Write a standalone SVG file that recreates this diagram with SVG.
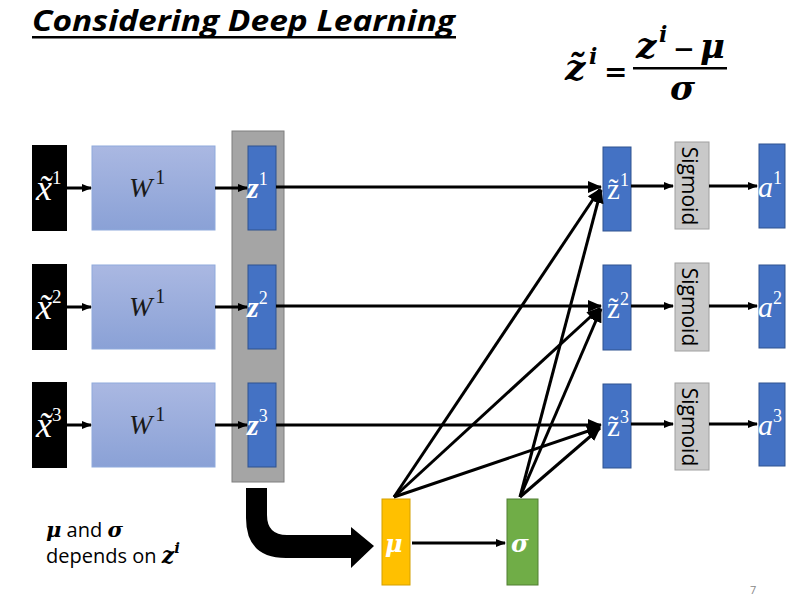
<svg xmlns="http://www.w3.org/2000/svg" width="793" height="602" viewBox="0 0 793 602">
<defs>
<linearGradient id="wg" x1="0" y1="0" x2="0" y2="1"><stop offset="0" stop-color="#aab8e2"/><stop offset="1" stop-color="#8aa1d6"/></linearGradient>
<marker id="ah" markerWidth="10" markerHeight="8" refX="9" refY="4" orient="auto" markerUnits="userSpaceOnUse"><path d="M0,0 L10,4 L0,8 z" fill="#000"/></marker>
<marker id="ah2" markerWidth="14" markerHeight="12" refX="13" refY="6" orient="auto" markerUnits="userSpaceOnUse"><path d="M0,0 L14,6 L0,12 z" fill="#000"/></marker>
</defs>
<style>
.xin{fill:#000}
.w{fill:url(#wg);stroke:#8faadc;stroke-width:1}
.blue{fill:#4472c4;stroke:#2f528f;stroke-width:1}
.sig{fill:#c9c9c9;stroke:#a0a0a0;stroke-width:1}
.m{font-family:"Liberation Serif","DejaVu Serif",serif;font-style:italic}
.wt{fill:#fff}
.bold{font-weight:bold}
.sup{font-style:normal;font-weight:normal}
.up{font-style:normal}
.ln{stroke:#000;stroke-width:3;fill:none;marker-end:url(#ah2)}
.sm{stroke:#000;stroke-width:3;fill:none;marker-end:url(#ah)}
.st{font-family:"Open Sans","Noto Sans",sans-serif;font-size:21px;fill:#000}
.nt{font-family:"Open Sans","Noto Sans",sans-serif;font-size:20px;fill:#000}
.mb{font-family:"DejaVu Serif","Liberation Serif",serif;font-style:italic;font-weight:bold}
</style>
<rect width="793" height="602" fill="#fff"/>
<g id="title">
<text x="32" y="31" font-family="Open Sans, Noto Sans, sans-serif" font-size="29" font-weight="bold" font-style="italic" textLength="423" lengthAdjust="spacingAndGlyphs">Considering Deep Learning</text>
<rect x="32" y="36" width="424" height="2.5" fill="#000"/>
</g>
<g id="formula">
<text class="mb" x="565" y="80" font-size="36">z̃</text>
<text class="mb" x="589" y="64" font-size="22">i</text>
<text class="mb up" x="604" y="81" font-size="28">=</text>
<text class="mb" x="636" y="58" font-size="36">z</text>
<text class="mb" x="659" y="42" font-size="22">i</text>
<text class="mb up" x="673" y="58" font-size="26">−</text>
<text class="mb" x="700" y="58" font-size="34">μ</text>
<rect x="633" y="67" width="94" height="2.5" fill="#000"/>
<text class="mb" x="670" y="100" font-size="34">σ</text>
</g>
<g id="gray">
<rect x="232" y="131" width="52" height="351" fill="#a5a5a5" stroke="#7f7f7f" stroke-width="1"/>
</g>
<g id="x1"><rect class="xin" x="32" y="145" width="35" height="86"/><text class="m wt" x="36" y="200" font-size="36">x̃<tspan class="sup" font-size="19" dy="-16">1</tspan></text></g>
<g id="x2"><rect class="xin" x="32" y="264" width="35" height="86"/><text class="m wt" x="36" y="319" font-size="36">x̃<tspan class="sup" font-size="19" dy="-16">2</tspan></text></g>
<g id="x3"><rect class="xin" x="32" y="382" width="35" height="86"/><text class="m wt" x="36" y="437" font-size="36">x̃<tspan class="sup" font-size="19" dy="-16">3</tspan></text></g>
<g id="w1"><rect class="w" x="92" y="146" width="123" height="84"/><text class="m" x="129" y="197" font-size="28" fill="#1a1a1a">W<tspan class="sup" font-size="20" dy="-13" dx="3">1</tspan></text></g>
<g id="w2"><rect class="w" x="92" y="265" width="123" height="84"/><text class="m" x="129" y="316" font-size="28" fill="#1a1a1a">W<tspan class="sup" font-size="20" dy="-13" dx="3">1</tspan></text></g>
<g id="w3"><rect class="w" x="92" y="383" width="123" height="84"/><text class="m" x="129" y="434" font-size="28" fill="#1a1a1a">W<tspan class="sup" font-size="20" dy="-13" dx="3">1</tspan></text></g>
<g id="z1"><rect class="blue" x="248" y="146" width="28" height="84"/><text class="m wt bold" x="247" y="198" font-size="30">z<tspan class="sup" font-size="18" dy="-13">1</tspan></text></g>
<g id="z2"><rect class="blue" x="248" y="265" width="28" height="84"/><text class="m wt bold" x="247" y="317" font-size="30">z<tspan class="sup" font-size="18" dy="-13">2</tspan></text></g>
<g id="z3"><rect class="blue" x="248" y="383" width="28" height="84"/><text class="m wt bold" x="247" y="435" font-size="30">z<tspan class="sup" font-size="18" dy="-13">3</tspan></text></g>
<g id="zt1"><rect class="blue" x="603" y="147" width="28" height="84"/><text class="wt" font-family="Liberation Serif, serif" x="607" y="199" font-size="29">z̃<tspan font-size="18" dy="-13">1</tspan></text></g>
<g id="zt2"><rect class="blue" x="603" y="265" width="28" height="85"/><text class="wt" font-family="Liberation Serif, serif" x="607" y="318" font-size="29">z̃<tspan font-size="18" dy="-13">2</tspan></text></g>
<g id="zt3"><rect class="blue" x="603" y="384" width="28" height="84"/><text class="wt" font-family="Liberation Serif, serif" x="607" y="436" font-size="29">z̃<tspan font-size="18" dy="-13">3</tspan></text></g>
<g id="s1"><rect class="sig" x="675" y="142" width="34" height="87"/><text class="st" transform="translate(682,186) rotate(90)" text-anchor="middle">Sigmoid</text></g>
<g id="s2"><rect class="sig" x="675" y="263" width="34" height="88"/><text class="st" transform="translate(682,307) rotate(90)" text-anchor="middle">Sigmoid</text></g>
<g id="s3"><rect class="sig" x="675" y="383" width="34" height="87"/><text class="st" transform="translate(682,427) rotate(90)" text-anchor="middle">Sigmoid</text></g>
<g id="a1"><rect class="blue" x="759" y="144" width="26" height="84"/><text class="m wt" x="758" y="197" font-size="30">a<tspan class="sup" font-size="18" dy="-13">1</tspan></text></g>
<g id="a2"><rect class="blue" x="759" y="265" width="26" height="83"/><text class="m wt" x="758" y="317" font-size="30">a<tspan class="sup" font-size="18" dy="-13">2</tspan></text></g>
<g id="a3"><rect class="blue" x="759" y="383" width="26" height="83"/><text class="m wt" x="758" y="435" font-size="30">a<tspan class="sup" font-size="18" dy="-13">3</tspan></text></g>
<g id="mu"><rect x="382" y="499" width="28" height="86" fill="#ffc000" stroke="#d4a000"/><text class="mb wt" x="385" y="552" font-size="24">μ</text></g>
<g id="sigma"><rect x="507" y="499" width="31" height="86" fill="#70ad47" stroke="#507e32"/><text class="mb wt" x="511" y="552" font-size="24">σ</text></g>
<g id="connectors">
<line class="sm" x1="67" y1="188" x2="91" y2="188"/>
<line class="sm" x1="67" y1="307" x2="91" y2="307"/>
<line class="sm" x1="67" y1="425" x2="91" y2="425"/>
<line class="sm" x1="215" y1="188" x2="247" y2="188"/>
<line class="sm" x1="215" y1="307" x2="247" y2="307"/>
<line class="sm" x1="215" y1="425" x2="247" y2="425"/>
<line class="ln" x1="276" y1="187" x2="601" y2="187"/>
<line class="ln" x1="276" y1="306" x2="601" y2="306"/>
<line class="ln" x1="276" y1="425" x2="601" y2="425"/>
<line class="ln" x1="394" y1="497" x2="600" y2="189"/>
<line class="ln" x1="394" y1="497" x2="600" y2="308"/>
<line class="ln" x1="394" y1="497" x2="600" y2="427"/>
<line class="ln" x1="520" y1="497" x2="601" y2="190"/>
<line class="ln" x1="520" y1="497" x2="601" y2="309"/>
<line class="ln" x1="520" y1="497" x2="600" y2="428"/>
<line class="sm" x1="631" y1="186" x2="673" y2="186"/>
<line class="sm" x1="631" y1="306" x2="673" y2="306"/>
<line class="sm" x1="631" y1="424" x2="673" y2="424"/>
<line class="sm" x1="709" y1="186" x2="757" y2="186"/>
<line class="sm" x1="709" y1="306" x2="757" y2="306"/>
<line class="sm" x1="709" y1="424" x2="757" y2="424"/>
<line class="sm" x1="412" y1="543" x2="505" y2="543"/>
<path d="M246,488 L267,488 L267,515 Q267,535 287,535 L351,535 L351,527 L374,546 L351,568 L351,558 L286,558 Q246,558 246,518 Z" fill="#000"/>
</g>
<g id="note">
<text x="46" y="537" class="nt"><tspan class="mb" font-size="21">μ</tspan> and <tspan class="mb" font-size="21">σ</tspan></text>
<text x="46" y="563" class="nt">depends on <tspan class="mb" font-size="22">z</tspan><tspan class="mb" font-size="15" dy="-10">i</tspan></text>
</g>
<text x="750" y="594" font-family="Open Sans, sans-serif" font-size="11" fill="#888">7</text>
</svg>
